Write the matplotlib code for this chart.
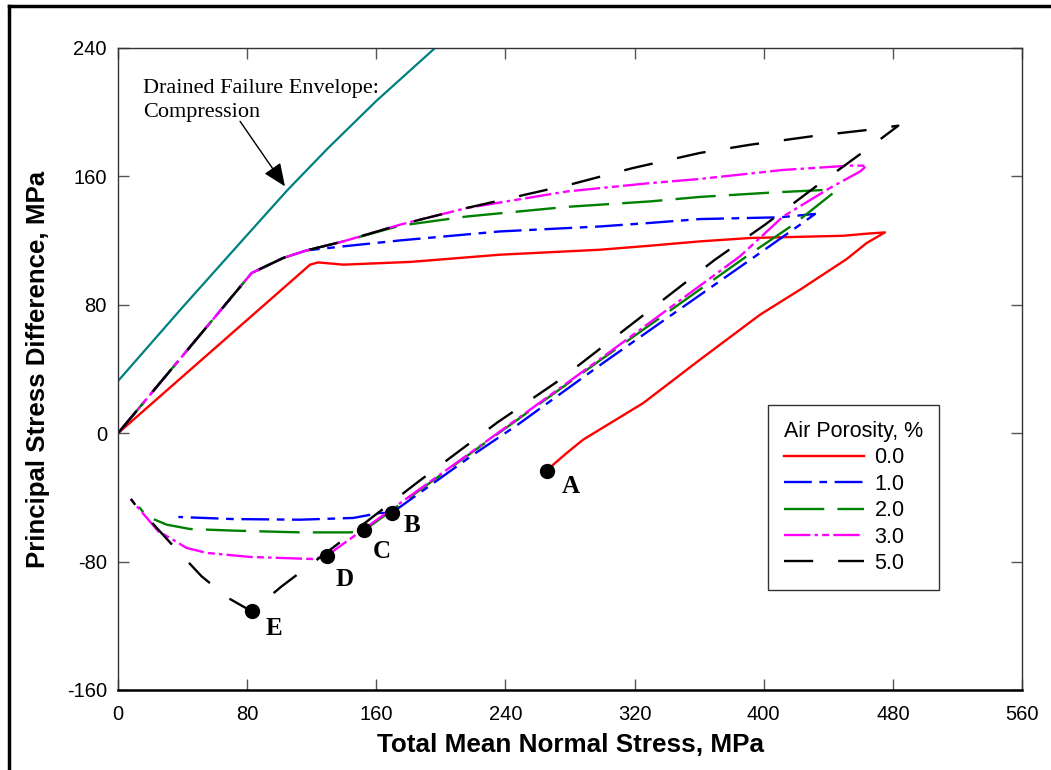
import numpy as np
import matplotlib
matplotlib.use("Agg")
import matplotlib.pyplot as plt
from matplotlib.lines import Line2D

plt.rcParams["lines.scale_dashes"] = False
plt.rcParams["axes.unicode_minus"] = False
plt.rcParams["font.family"] = ["Liberation Sans", "DejaVu Sans"]

# Drained failure envelope (compression), slightly curved
ENV_P = [0, 40, 80, 105, 130, 160, 195.3, 210]
ENV_Q = [32.5, 78.5, 123.5, 151.5, 177.5, 207, 239, 252]

# Stress paths, one per air porosity (p, q in MPa)
P_00 = [0, 119, 124, 139.6, 181, 236.6, 298.6, 329.5, 360.5, 391.5, 449.3, 463.8, 475.1,
        463.8, 451.4, 422.5, 397.7, 360.5, 325.4, 288.2, 278, 269.6, 265.6]
Q_00 = [0, 105, 106.4, 105, 106.7, 111.2, 114.3, 116.8, 119.5, 121.6, 123, 124.3, 125.1,
        118.5, 108.5, 89.4, 73.8, 45.8, 18.8, -4, -12.3, -19.6, -23.8]

P_10 = [0, 82.8, 102.4, 116.9, 139.6, 174.7, 236.6, 298.6, 329.5, 360.5, 391.5, 410, 431.8,
        424.5, 397.7, 300, 247.6, 220, 169.5, 162.3, 145.8, 112.7, 71.4, 37.4]
Q_10 = [0, 99.8, 109.2, 113.9, 116.4, 120.1, 125.7, 128.8, 131, 133.4, 134.1, 134.5, 136.6,
        131.3, 112.3, 43.4, 5.3, -13.4, -49.7, -49.7, -52.8, -53.9, -53.5, -52.2]

P_20 = [0, 82.8, 102.4, 116.9, 139.6, 174.7, 216, 278, 329.5, 360.5, 406, 441.1, 443.1,
        418.3, 389.4, 300, 220, 152.4, 143.7, 112.7, 71.4, 44.6, 30.2, 17.8, 13]
Q_20 = [0, 99.8, 109.2, 113.9, 119.5, 129.3, 135, 141, 144.4, 147.2, 150, 151.7, 149.7,
        129.9, 110.2, 46.4, -11.4, -60.6, -61.8, -61.8, -60.7, -59.7, -57, -51.8, -46]

P_30 = [0, 82.8, 102.4, 116.9, 139.6, 174.7, 216, 278, 329.5, 360.5, 412, 453.5, 463.8,
        459.8, 441.1, 412, 385.3, 300, 220, 129.3, 121, 81.8, 55, 42.5, 32.2, 25, 7.8]
Q_30 = [0, 99.8, 109.2, 113.9, 119.5, 129.9, 140.3, 150.6, 155.8, 158.4, 164, 166.7, 166.7,
        163.1, 152.8, 135, 110.2, 47.2, -11, -76.3, -78.4, -77.1, -74.6, -71.5, -65.3, -61.2, -41]

P_50 = [0, 82.8, 102.4, 116.9, 139.6, 174.7, 216, 282, 319, 360.5, 391.5, 430, 465.8, 483.4,
        466.9, 433.8, 400.8, 369.8, 273.8, 234.6, 185, 135.5, 101.4, 82.8,
        68.3, 51.8, 35.3, 20.9, 13.6, 8]
Q_50 = [0, 99.8, 109.2, 113.9, 119.5, 129.9, 140.3, 155.4, 165.2, 174.6, 179.7, 185, 189.1, 191.6,
        179.1, 154.8, 129.9, 108.1, 33.3, 6.4, -31, -69.5, -95.4, -111,
        -102.7, -89.2, -71.5, -55.6, -48.7, -41]

# End states of the unloading, labelled A-E
END_LABELS = ["A", "B", "C", "D", "E"]
END_P = [265.6, 169.5, 152.4, 129.3, 82.8]
END_Q = [-23.8, -49.7, -60.6, -76.3, -111.0]
LABEL_OFFSETS = [(17, -11), (15, -9), (13, -15), (12.5, -17), (16, -12)]

SERIES = [
    ("0.0", P_00, Q_00, "#ff0000", None),
    ("1.0", P_10, Q_10, "#0000ff", (0, (20, 5.5, 5.5, 5.5))),
    ("2.0", P_20, Q_20, "#008000", (0, (29, 9.5))),
    ("3.0", P_30, Q_30, "#ff00ff", (0, (19, 3, 2.5, 3, 5, 3))),
    ("5.0", P_50, Q_50, "#000000", (0, (21, 18))),
]

fig = plt.figure(figsize=(10.51, 7.70), dpi=100)
ax = fig.add_axes([0.1123, 0.1039, 0.8601, 0.8338])

ax.plot(ENV_P, ENV_Q, color="#008080", lw=1.6)

for label, p, q, color, ls in SERIES:
    kw = dict(color=color, lw=1.7, label=label)
    if ls is None:
        ax.plot(p, q, ls="-", **kw)
    else:
        ax.plot(p, q, linestyle=ls, **kw)

ax.plot(END_P, END_Q, "o", color="black", ms=10, zorder=5)
for name, p, q, off in zip(END_LABELS, END_P, END_Q, LABEL_OFFSETS):
    ax.annotate(name, xy=(p, q), xytext=off, textcoords="offset points",
                ha="center", va="center", fontsize=18, fontweight="bold",
                family=["Liberation Serif", "DejaVu Serif"])

ax.text(15.7, 220.5, "Drained Failure Envelope:\nCompression", ha="left", va="top",
        fontsize=16, linespacing=1.37, family=["Liberation Serif", "DejaVu Serif"])
ax.annotate("", xy=(103.4, 153.8), xytext=(75.6, 194.3),
            arrowprops=dict(arrowstyle="-|>,head_length=0.7,head_width=0.3",
                            color="black", lw=1.0, mutation_scale=20,
                            shrinkA=0, shrinkB=0))

ax.set_xlim(0, 560)
ax.set_ylim(-160, 240)
ax.set_xticks(np.arange(0, 561, 80))
ax.set_yticks(np.arange(-160, 241, 80))
ax.tick_params(direction="in", length=8, width=1, color="#555555",
               top=True, right=True, labelsize=14.5, pad=8)
ax.tick_params(axis="x", pad=11)
for side in ("top", "left", "right"):
    ax.spines[side].set_linewidth(1.0)
    ax.spines[side].set_color("#333333")
ax.spines["bottom"].set_linewidth(1.8)
ax.spines["bottom"].set_color("black")

ax.set_xlabel("Total Mean Normal Stress, MPa", fontsize=18.8, fontweight="bold", labelpad=6)
ax.set_ylabel("Principal Stress Difference, MPa", fontsize=18.6, fontweight="bold", labelpad=12)

leg = ax.legend(loc="upper left", bbox_to_anchor=(0.719, 0.444), borderaxespad=0,
                title="Air Porosity, %", fontsize=15.5, title_fontsize=15.5,
                handlelength=3.7, handletextpad=0.5, labelspacing=0.25,
                borderpad=0.75, fancybox=False, framealpha=1, alignment="left")
leg.get_frame().set_edgecolor("#333333")
leg.get_frame().set_linewidth(1.0)

# border of the enclosing figure box
fig.add_artist(Line2D([0.0081, 1.0], [0.992, 0.992], transform=fig.transFigure,
                      color="black", lw=2.5))
fig.add_artist(Line2D([0.0081, 0.0081], [0.0, 0.992], transform=fig.transFigure,
                      color="black", lw=2.5))

fig.savefig("out.png", dpi=100)
